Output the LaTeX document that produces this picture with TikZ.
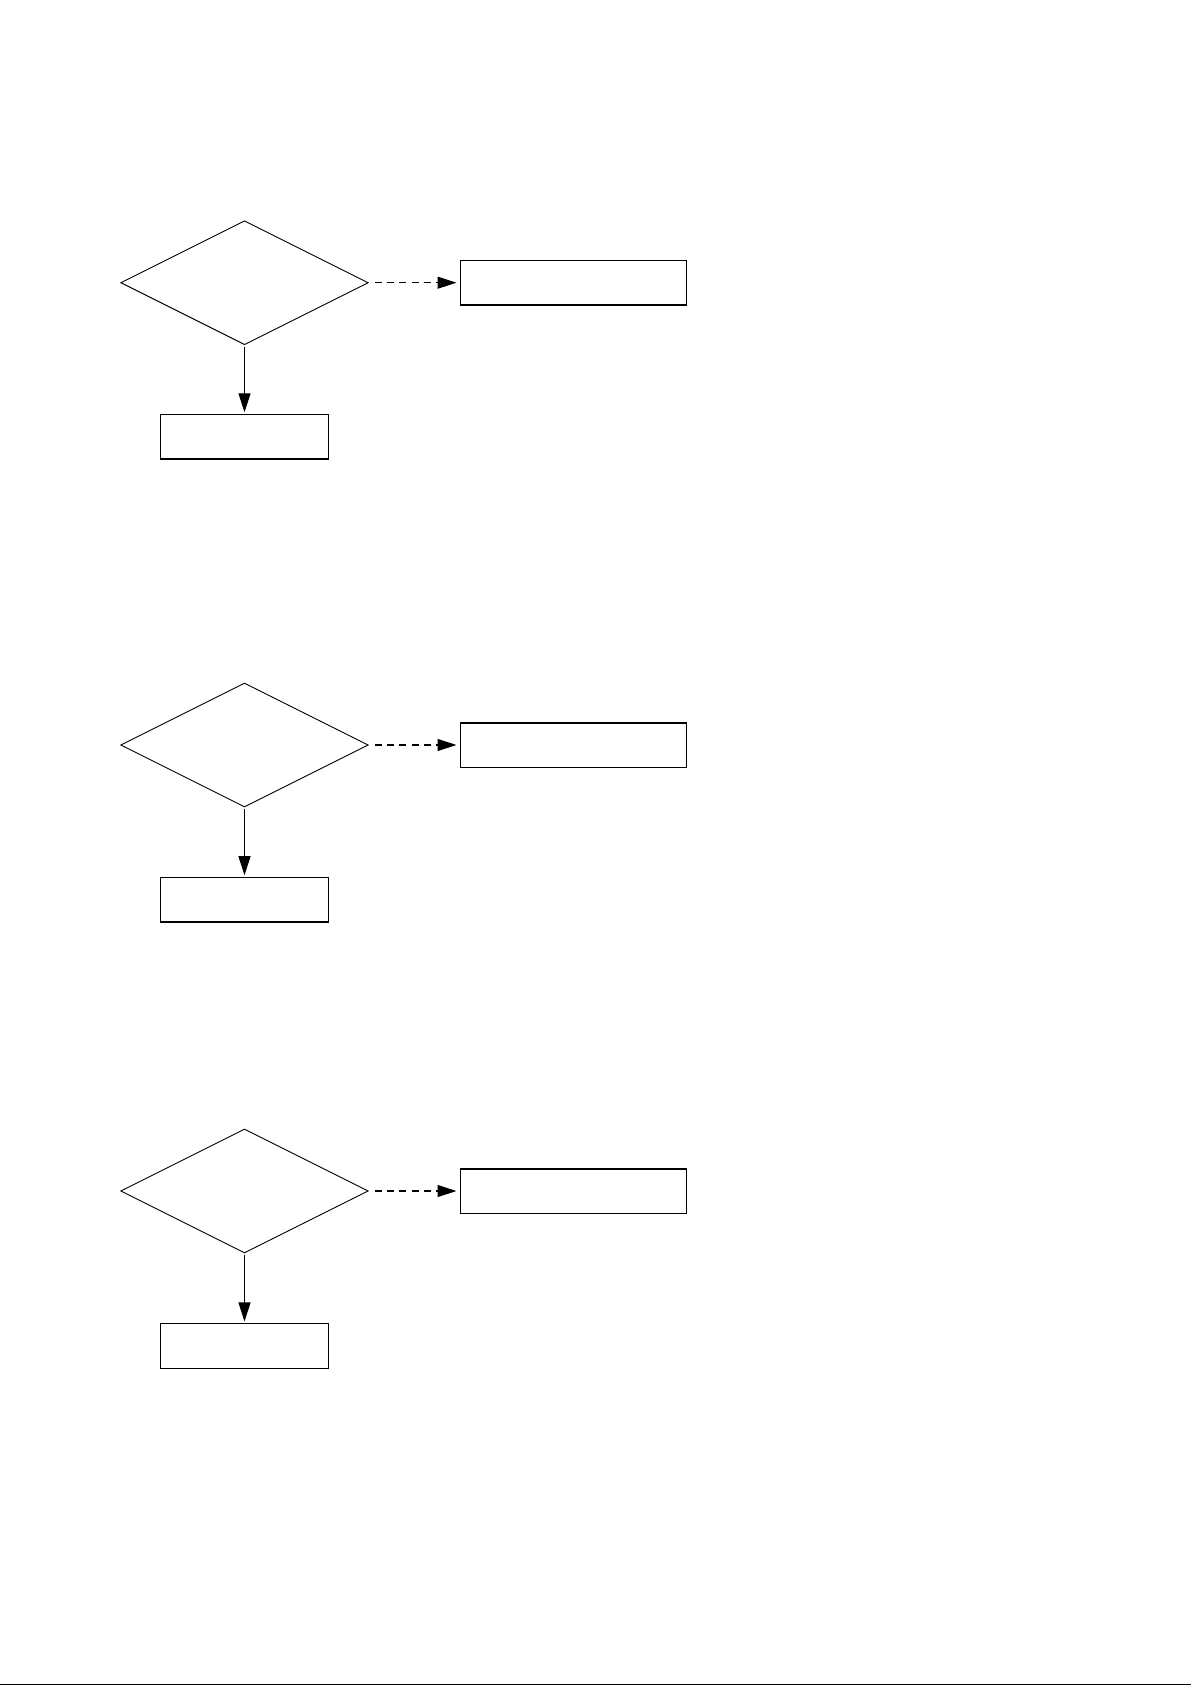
\documentclass[tikz,border=0pt]{standalone}
\usepackage{tikz}
\usetikzlibrary{arrows.meta}
\usetikzlibrary{positioning, shapes.geometric}

\begin{document}
\begin{tikzpicture}[x=0.5pt, y=-0.5pt,
    decision/.style={diamond, draw, line width=0.45pt, aspect=2, inner sep=0pt, outer sep=0pt,
      minimum width=123.6pt, minimum height=61.8pt},
    wide box/.style={rectangle, draw, line width=0.7pt, inner sep=0pt, outer sep=0pt,
      minimum width=113pt, minimum height=22.2pt},
    small box/.style={rectangle, draw, line width=0.7pt, inner sep=0pt, outer sep=0pt,
      minimum width=84pt, minimum height=22.4pt},
    yes/.style={-{Triangle[length=9.5pt, width=6pt]}, line width=0.6pt, shorten <=1pt, shorten >=1pt},
    no/.style={-{Triangle[length=9.5pt, width=6pt]}, line width=0.6pt, dash pattern=on 3.5pt off 2.6pt,
      shorten <=3.4pt, shorten >=2pt}]
  \useasboundingbox (0,0) rectangle (1191,1685);

  % first check
  \node[decision] (check1) at (244.5,282.7) {};
  \node[wide box, right=46.2pt of check1] (fail1) {};
  \node[small box, below=34.9pt of check1] (next1) {};
  \draw[no] (check1) -- (fail1);
  \draw[yes] (check1) -- (next1);

  % second check
  \node[decision] (check2) at (244.5,745) {};
  \node[wide box, right=46.2pt of check2] (fail2) {};
  \node[small box, below=35.2pt of check2] (next2) {};
  \draw[no] (check2) -- (fail2);
  \draw[yes] (check2) -- (next2);

  % third check
  \node[decision] (check3) at (244.5,1191) {};
  \node[wide box, right=46.2pt of check3] (fail3) {};
  \node[small box, below=35.3pt of check3] (next3) {};
  \draw[no] (check3) -- (fail3);
  \draw[yes] (check3) -- (next3);

  % page rule at the foot
  \draw[line width=0.7pt] (0,1684.3) -- (1191,1684.3);
\end{tikzpicture}
\end{document}
